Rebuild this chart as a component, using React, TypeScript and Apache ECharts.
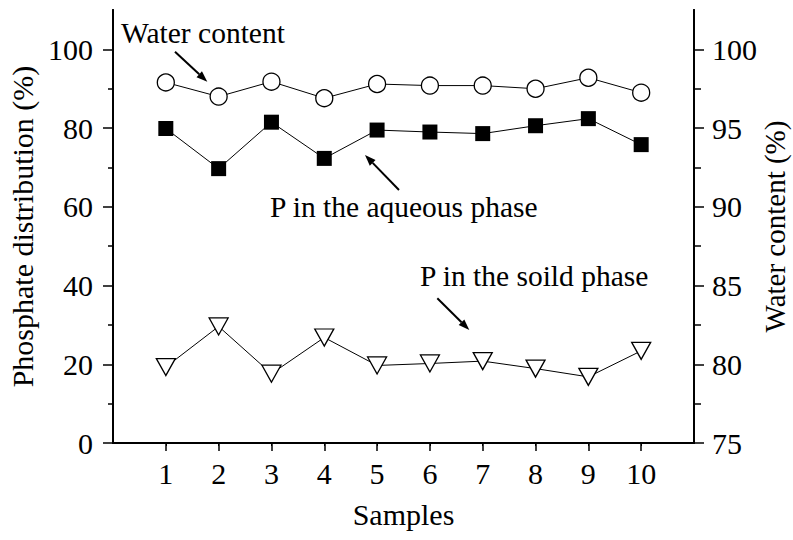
import React, { useEffect, useRef } from "react";
import * as echarts from "echarts";

const samples = [1, 2, 3, 4, 5, 6, 7, 8, 9, 10];
const aqueousP = [79.9, 69.7, 81.5, 72.3, 79.5, 79.0, 78.6, 80.6, 82.4, 75.8];
const solidP = [19.3, 29.6, 17.6, 26.8, 19.7, 20.2, 20.8, 18.9, 16.8, 23.4];
const waterContent = [97.9, 97.0, 97.95, 96.9, 97.8, 97.7, 97.7, 97.5, 98.2, 97.25];

const leftMajor = [0, 20, 40, 60, 80, 100];
const leftMinor = [10, 30, 50, 70, 90];
const rightMajor = [75, 80, 85, 90, 95, 100];
const rightMinor = [77.5, 82.5, 87.5, 92.5, 97.5];

const FONT = "Liberation Serif, Times New Roman, serif";

function arrow(x1: number, y1: number, x2: number, y2: number) {
  const ang = Math.atan2(y2 - y1, x2 - x1);
  const L = 11;
  const W = 4;
  const bx = x2 - L * Math.cos(ang);
  const by = y2 - L * Math.sin(ang);
  const nx = -Math.sin(ang) * W;
  const ny = Math.cos(ang) * W;
  return [
    { type: "line", shape: { x1, y1, x2: bx, y2: by }, style: { stroke: "#000", lineWidth: 2 } },
    {
      type: "polygon",
      shape: { points: [[x2, y2], [bx + nx, by + ny], [bx - nx, by - ny]] },
      style: { fill: "#000" },
    },
  ];
}

function label(text: string, x: number, y: number) {
  return {
    type: "text",
    x,
    y,
    style: { text, fontFamily: FONT, fontSize: 29.5, fill: "#000", verticalAlign: "middle", align: "left" },
  };
}

export default function App() {
  const ref = useRef<HTMLDivElement>(null);
  useEffect(() => {
    if (!ref.current) return;
    const chart = echarts.init(ref.current, null, { renderer: "svg" });
    const axisLine = { show: true, lineStyle: { color: "#000", width: 2 } };
    const labelStyle = { color: "#000", fontFamily: FONT, fontSize: 30 };
    const nameStyle = { color: "#000", fontFamily: FONT, fontSize: 30 };
    chart.setOption({
      animation: false,
      backgroundColor: "#fff",
      textStyle: { fontFamily: FONT },
      grid: { left: 113, right: 99, top: 10, bottom: 97, containLabel: false, outerBoundsMode: "none" },
      xAxis: [
        {
          type: "value",
          min: 0,
          max: 11,
          interval: 1,
          position: "bottom",
          axisLine,
          splitLine: { show: false },
          axisTick: { show: true, inside: false, length: 8, customValues: samples, lineStyle: { color: "#000", width: 1.5 } },
          axisLabel: { customValues: samples, margin: 15, ...labelStyle },
          name: "Samples",
          nameLocation: "middle",
          nameGap: 56,
          nameMoveOverlap: false,
          nameTextStyle: nameStyle,
        },
        {
          type: "value",
          min: 0,
          max: 11,
          interval: 1,
          position: "top",
          axisLine,
          splitLine: { show: false },
          axisTick: { show: true, inside: true, length: 3, customValues: samples, lineStyle: { color: "#000", width: 1 } },
          axisLabel: { show: false },
        },
      ],
      yAxis: [
        {
          type: "value",
          min: 0,
          max: 110,
          position: "left",
          axisLine,
          splitLine: { show: false },
          axisTick: { show: true, inside: false, length: 10, customValues: leftMajor, lineStyle: { color: "#000", width: 1.5 } },
          axisLabel: { customValues: leftMajor, margin: 20, ...labelStyle },
          name: "Phosphate distribution (%)",
          nameLocation: "middle",
          nameRotate: 90,
          nameGap: 76,
          nameMoveOverlap: false,
          nameTextStyle: nameStyle,
        },
        {
          type: "value",
          min: 0,
          max: 110,
          position: "left",
          axisLine,
          splitLine: { show: false },
          axisTick: { show: true, inside: false, length: 5, customValues: leftMinor, lineStyle: { color: "#000", width: 1.5 } },
          axisLabel: { show: false },
        },
        {
          type: "value",
          min: 75,
          max: 102.5,
          position: "right",
          axisLine,
          splitLine: { show: false },
          axisTick: { show: true, inside: false, length: 10, customValues: rightMajor, lineStyle: { color: "#000", width: 1.5 } },
          axisLabel: { customValues: rightMajor, margin: 18, ...labelStyle },
          name: "Water content (%)",
          nameLocation: "middle",
          nameRotate: 90,
          nameGap: 66,
          nameMoveOverlap: false,
          nameTextStyle: { ...nameStyle, fontSize: 29 },
        },
        {
          type: "value",
          min: 75,
          max: 102.5,
          position: "right",
          axisLine,
          splitLine: { show: false },
          axisTick: { show: true, inside: false, length: 7, customValues: rightMinor, lineStyle: { color: "#000", width: 1.5 } },
          axisLabel: { show: false },
        },
      ],
      series: [
        {
          name: "Water content",
          type: "line",
          yAxisIndex: 2,
          data: samples.map((s, i) => [s, waterContent[i]]),
          symbol: "circle",
          symbolSize: 17,
          lineStyle: { color: "#000", width: 1 },
          itemStyle: { color: "#fff", borderColor: "#000", borderWidth: 1.3 },
        },
        {
          name: "P in the aqueous phase",
          type: "line",
          yAxisIndex: 0,
          data: samples.map((s, i) => [s, aqueousP[i]]),
          symbol: "rect",
          symbolSize: 15,
          lineStyle: { color: "#000", width: 1 },
          itemStyle: { color: "#000", borderColor: "#000", borderWidth: 0 },
        },
        {
          name: "P in the soild phase",
          type: "line",
          yAxisIndex: 0,
          data: samples.map((s, i) => [s, solidP[i]]),
          symbol: "triangle",
          symbolRotate: 180,
          symbolSize: [19, 17],
          lineStyle: { color: "#000", width: 1 },
          itemStyle: { color: "#fff", borderColor: "#000", borderWidth: 1.3 },
        },
      ],
      graphic: [
        label("Water content", 121, 32.5),
        ...arrow(175, 51.7, 207.3, 81.7),
        label("P in the aqueous phase", 270, 206.7),
        ...arrow(399, 190, 365, 155),
        label("P in the soild phase", 420, 276.3),
        ...arrow(437.3, 298.3, 469.3, 330),
      ],
    });
    return () => chart.dispose();
  }, []);
  return (
    <div
      ref={ref}
      style={{ position: "absolute", left: 0, top: 0, width: 793, height: 540, background: "#fff" }}
    />
  );
}
